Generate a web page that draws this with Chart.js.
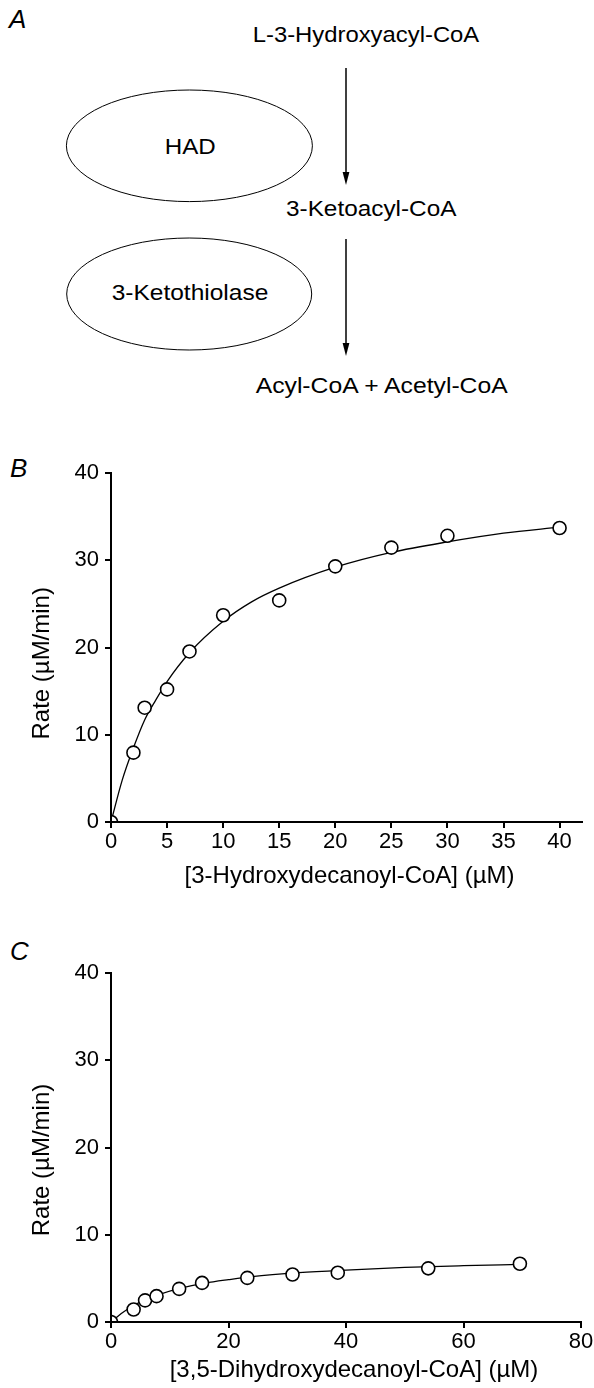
<!DOCTYPE html>
<html>
<head>
<meta charset="utf-8">
<title>HAD / 3-ketothiolase kinetics</title>
<script src="https://cdn.jsdelivr.net/npm/chart.js@4.4.1/dist/chart.umd.min.js"></script>
<style>
	body { margin: 0; background: #fff; }
	#page { position: relative; width: 594px; height: 1388px; overflow: hidden; }
	#scheme { position: absolute; left: 0; top: 0; }
	#scheme text { font-family: "Liberation Sans", Arial, sans-serif; fill: #000; }
	canvas { position: absolute; left: 0; }
	#chartB { top: 440px; }
	#chartC { top: 900px; }
</style>
</head>
<body>
<div id="page">
	<svg id="scheme" width="594" height="1388">
		<!-- panel A : reaction scheme -->
		<text x="9" y="28" font-size="26" font-style="italic">A</text>
		<text x="252.7" y="41.7" font-size="22" textLength="226.6" lengthAdjust="spacingAndGlyphs">L-3-Hydroxyacyl-CoA</text>
		<line x1="346" y1="68" x2="346" y2="176" stroke="#000" stroke-width="1.5" />
		<polygon points="342.6,172 349.4,172 346,185" fill="#000" />
		<ellipse cx="189.4" cy="145.8" rx="123" ry="55.8" fill="none" stroke="#000" stroke-width="1" />
		<text x="164.8" y="154" font-size="22" textLength="51" lengthAdjust="spacingAndGlyphs">HAD</text>
		<text x="286" y="216" font-size="22" textLength="170.4" lengthAdjust="spacingAndGlyphs">3-Ketoacyl-CoA</text>
		<line x1="346" y1="239" x2="346" y2="347" stroke="#000" stroke-width="1.5" />
		<polygon points="342.6,343 349.4,343 346,356" fill="#000" />
		<ellipse cx="189.2" cy="294" rx="122.5" ry="56" fill="none" stroke="#000" stroke-width="1" />
		<text x="111.7" y="300" font-size="22" textLength="156.6" lengthAdjust="spacingAndGlyphs">3-Ketothiolase</text>
		<text x="255.7" y="393" font-size="22" textLength="252" lengthAdjust="spacingAndGlyphs">Acyl-CoA + Acetyl-CoA</text>
		<!-- panel letters -->
		<text x="10" y="477" font-size="26" font-style="italic">B</text>
		<text x="10" y="960" font-size="26" font-style="italic">C</text>
	</svg>
	<canvas id="chartB" width="594" height="460"></canvas>
	<canvas id="chartC" width="594" height="488"></canvas>
</div>
<script>
// ---- panel B : [3-Hydroxydecanoyl-CoA] ----
const substrateB = [0, 2, 3, 5, 7, 10, 15, 20, 25, 30, 40];
const rateB = [0, 7.95, 13.1, 15.2, 19.55, 23.7, 25.4, 29.3, 31.45, 32.8, 33.7];
// fitted curve
const fitXB = [0, 1, 2, 3, 4, 5, 7, 10, 12.5, 15, 20, 25, 30, 35, 40];
const fitYB = [0, 4.8, 8.5, 11.7, 14.0, 16.1, 19.4, 23.0, 25.2, 26.8, 29.2, 30.9, 32.1, 33.1, 33.8];

// ---- panel C : [3,5-Dihydroxydecanoyl-CoA] ----
const substrateC = [0, 3.85, 5.8, 7.75, 11.6, 15.5, 23.2, 30.9, 38.6, 54.0, 69.6];
const rateC = [0, 1.43, 2.48, 2.96, 3.8, 4.48, 5.06, 5.44, 5.65, 6.15, 6.68];
const fitXC = [0, 2, 4, 6, 8, 12, 16, 20, 24, 32, 40, 50, 60, 69.6];
const fitYC = [0, 1.1, 1.95, 2.6, 3.1, 3.9, 4.45, 4.85, 5.2, 5.65, 5.95, 6.25, 6.45, 6.6];

const rateTicks = [0, 10, 20, 30, 40];

const FONT = '"Liberation Sans", Arial, sans-serif';
Chart.defaults.font.family = FONT;
Chart.defaults.font.size = 22;
Chart.defaults.color = "#000";

const toXY = (xs, ys) => xs.map((x, i) => ({ x: x, y: ys[i] }));

// axis titles are drawn by hand so they can sit where the figure has them
const axisTitles = {
	id: "axisTitles",
	afterDraw(chart, args, opts) {
		const ctx = chart.ctx;
		ctx.save();
		ctx.font = "24px " + FONT;
		ctx.fillStyle = "#000";
		ctx.textAlign = "center";
		ctx.textBaseline = "middle";
		ctx.fillText(opts.xText, opts.xAt[0], opts.xAt[1]);
		ctx.translate(opts.yAt[0], opts.yAt[1]);
		ctx.rotate(-Math.PI / 2);
		ctx.fillText(opts.yText, 0, 0);
		ctx.restore();
	}
};

function makeChart(id, cfg) {
	const ctx = document.getElementById(id).getContext("2d");
	return new Chart(ctx, {
		type: "scatter",
		data: {
			datasets: [
				{
					label: "measured",
					data: toXY(cfg.xs, cfg.ys),
					pointRadius: 6.5,
					pointBorderWidth: 1.6,
					pointBorderColor: "#000",
					pointBackgroundColor: "#fff",
					clip: { left: -1, bottom: -1, top: 10, right: 10 }
				},
				{
					label: "fit",
					data: toXY(cfg.fitX, cfg.fitY),
					showLine: true,
					borderColor: "#000",
					borderWidth: 1.3,
					pointRadius: 0,
					cubicInterpolationMode: "monotone"
				}
			]
		},
		plugins: [axisTitles],
		options: {
			responsive: false,
			animation: false,
			devicePixelRatio: 1,
			events: [],
			layout: { padding: cfg.padding },
			scales: {
				x: {
					type: "linear",
					min: 0,
					max: cfg.xMax,
					border: { display: true, color: "#000", width: 2 },
					grid: { drawOnChartArea: false, drawTicks: true, tickLength: 6, lineWidth: 2, color: "#000" },
					ticks: { stepSize: cfg.xStep, includeBounds: false, padding: 1, maxRotation: 0 },
					afterFit: (scale) => {
						scale.height = cfg.xAxisHeight;
						scale.paddingLeft = 0;
						scale.paddingRight = 0;
					}
				},
				y: {
					type: "linear",
					min: 0,
					max: 40,
					border: { display: true, color: "#000", width: 2 },
					grid: { drawOnChartArea: false, drawTicks: true, tickLength: 6, lineWidth: 2, color: "#000" },
					ticks: { stepSize: 10, padding: 6 },
					afterBuildTicks: (scale) => {
						scale.ticks = rateTicks.map((v) => ({ value: v }));
					},
					afterFit: (scale) => {
						scale.width = 111;
						scale.paddingTop = 0;
						scale.paddingBottom = 0;
					}
				}
			},
			plugins: {
				legend: { display: false },
				tooltip: { enabled: false },
				axisTitles: {
					xText: cfg.xTitle,
					xAt: cfg.xTitleAt,
					yText: "Rate (\u00b5M/min)",
					yAt: cfg.yTitleAt
				}
			}
		}
	});
}

makeChart("chartB", {
	xs: substrateB,
	ys: rateB,
	fitX: fitXB,
	fitY: fitYB,
	xMax: 42,
	xStep: 5,
	xAxisHeight: 70,
	padding: { top: 33, right: 12, bottom: 8, left: 0 },
	xTitle: "[3-Hydroxydecanoyl-CoA] (\u00b5M)",
	xTitleAt: [349.5, 436],
	yTitleAt: [42.6, 223.3]
});

makeChart("chartC", {
	xs: substrateC,
	ys: rateC,
	fitX: fitXC,
	fitY: fitYC,
	xMax: 80,
	xStep: 20,
	xAxisHeight: 60,
	padding: { top: 73, right: 13, bottom: 6, left: 0 },
	xTitle: "[3,5-Dihydroxydecanoyl-CoA] (\u00b5M)",
	xTitleAt: [354, 470],
	yTitleAt: [42.6, 260]
});
</script>
</body>
</html>
